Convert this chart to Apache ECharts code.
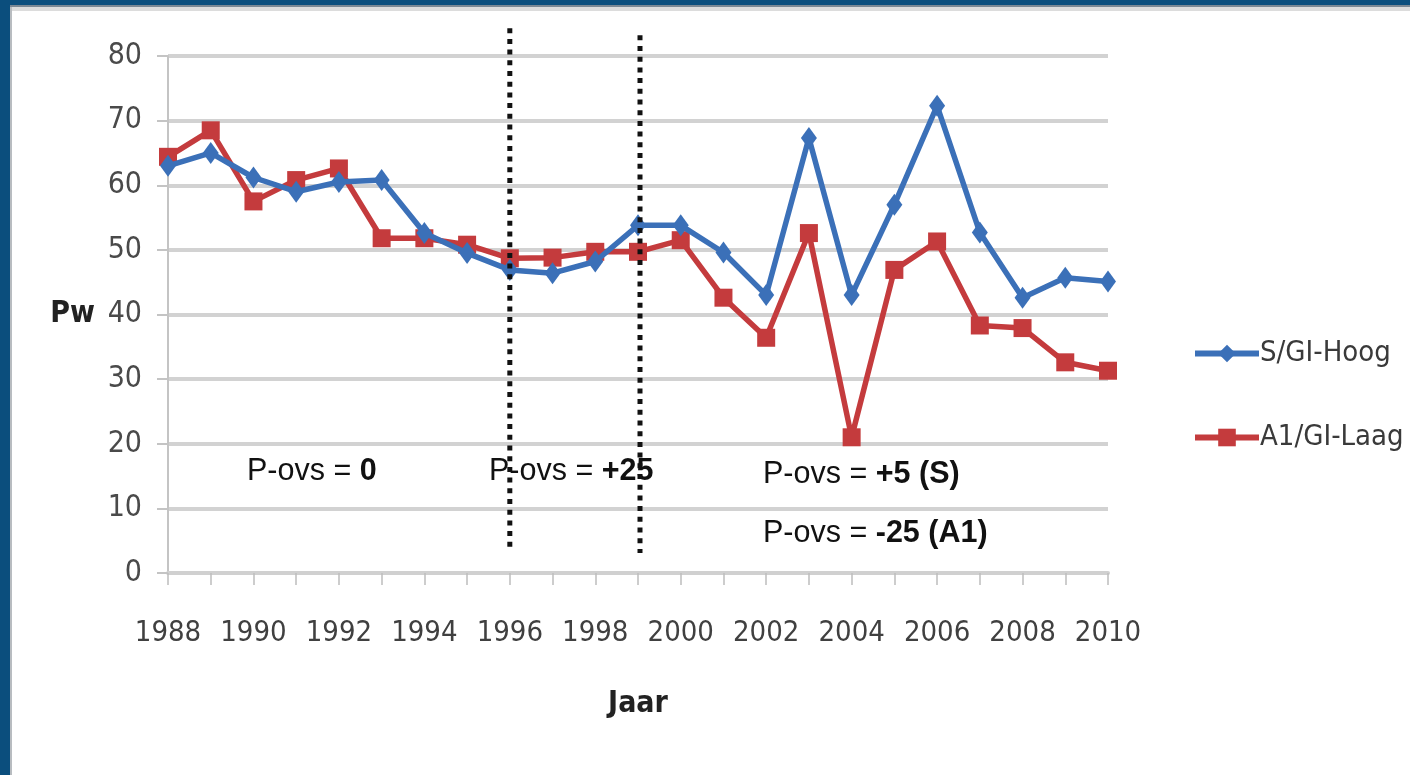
<!DOCTYPE html>
<html>
<head>
<meta charset="utf-8">
<script src="https://cdn.jsdelivr.net/npm/echarts@6/dist/echarts.min.js"></script>
<style>
html,body{margin:0;padding:0;background:#fff;}
#chart{position:absolute;left:0;top:0;width:1410px;height:775px;}
.b{position:absolute;}
</style>
</head>
<body>
<div id="chart"></div>
<div class="b" style="left:0;top:0;width:1410px;height:5px;background:#0b4e7d"></div>
<div class="b" style="left:0;top:5px;width:1410px;height:2px;background:#7b8894"></div>
<div class="b" style="left:0;top:7px;width:1410px;height:4px;background:#dcdcdc"></div>
<div class="b" style="left:0;top:0;width:10px;height:775px;background:#0b4e7d"></div>
<div class="b" style="left:10px;top:7px;width:2px;height:768px;background:#b8bcc0"></div>
<script>
var years = ['1988','1989','1990','1991','1992','1993','1994','1995','1996','1997','1998','1999','2000','2001','2002','2003','2004','2005','2006','2007','2008','2009','2010'];
var sHoog = [63, 65, 61.2, 59, 60.5, 60.8, 52.6, 49.5, 46.9, 46.4, 48.2, 53.8, 53.8, 49.6, 43, 67.3, 43, 57, 72.3, 52.7, 42.6, 45.7, 45.1];
var a1Laag = [64.4, 68.5, 57.5, 60.8, 62.6, 51.8, 51.8, 50.8, 48.7, 48.8, 49.7, 49.7, 51.5, 42.6, 36.4, 52.6, 21, 46.9, 51.3, 38.3, 37.9, 32.6, 31.3];
var yTicks = [0, 10, 20, 30, 40, 50, 60, 70, 80];
var seriesNames = ['S/GI-Hoog', 'A1/GI-Laag'];
// period boundaries: [year, top value, bottom value]
var periodLines = [['1996', 84.3, 3.9], ['1999', 83.2, 3.1]];
var notes = [
  {x: 247, y: 456, plain: 'P-ovs = ', bold: '0'},
  {x: 489, y: 456, plain: 'P-ovs = ', bold: '+25'},
  {x: 763, y: 459, plain: 'P-ovs = ', bold: '+5 (S)'},
  {x: 763, y: 518, plain: 'P-ovs = ', bold: '-25 (A1)'}
];

var narrow = '"Liberation Sans Narrow", "DejaVu Sans Condensed", "Liberation Sans", sans-serif';
var chart = echarts.init(document.getElementById('chart'));

chart.setOption({
  animation: false,
  backgroundColor: '#fff',
  grid: {left: 168, right: 302, top: 56, bottom: 202, containLabel: false},
  legend: {
    orient: 'vertical', left: 1187, top: 334, itemGap: 55,
    itemWidth: 64, itemHeight: 22,
    lineStyle: {width: 6},
    textStyle: {fontFamily: narrow, fontSize: 29, color: '#3a3a3a', padding: [0, 0, 0, -4]},
    data: seriesNames
  },
  xAxis: {
    type: 'category', data: years, boundaryGap: false,
    name: 'Jaar', nameLocation: 'middle', nameGap: 116,
    nameTextStyle: {fontFamily: narrow, fontSize: 30, fontWeight: 'bold', color: '#222'},
    axisLine: {show: true, lineStyle: {color: '#d0d0d0', width: 4}},
    axisTick: {show: true, interval: 0, length: 12, lineStyle: {color: '#bdbdbd', width: 1.5}},
    axisLabel: {interval: 1, margin: 46, fontFamily: narrow, fontSize: 29, color: '#404040'},
    splitLine: {show: false}
  },
  yAxis: {
    type: 'value', min: yTicks[0], max: yTicks[yTicks.length - 1], interval: 10,
    name: 'Pw', nameLocation: 'middle', nameRotate: 0, nameGap: 73,
    nameTextStyle: {fontFamily: narrow, fontSize: 30, fontWeight: 'bold', color: '#222'},
    axisLine: {show: true, lineStyle: {color: '#c4c4c4', width: 2}},
    axisTick: {show: true, length: 11, lineStyle: {color: '#c4c4c4', width: 2}},
    axisLabel: {margin: 26, fontFamily: narrow, fontSize: 30, color: '#4a4a4a'},
    splitLine: {show: true, lineStyle: {color: '#d2d2d2', width: 4}}
  },
  series: [
    {
      name: seriesNames[0], type: 'line', data: sHoog, clip: false, z: 3,
      symbol: 'diamond', symbolSize: [16, 22],
      lineStyle: {color: '#3b70b8', width: 5.5},
      itemStyle: {color: '#3b70b8'}
    },
    {
      name: seriesNames[1], type: 'line', data: a1Laag, clip: false, z: 2,
      symbol: 'rect', symbolSize: 18,
      lineStyle: {color: '#c43b3d', width: 5.5},
      itemStyle: {color: '#c43b3d'}
    }
  ]
});

var graphics = notes.map(function (n, i) {
  return {
    type: 'text', id: 'note' + i, left: n.x, top: n.y, z: 10,
    style: {
      text: '{p|' + n.plain + '}{b|' + n.bold + '}',
      rich: {
        p: {fontFamily: '"Liberation Sans", Arial, sans-serif', fontSize: 30.5, fill: '#111'},
        b: {fontFamily: '"Liberation Sans", Arial, sans-serif', fontSize: 30.5, fontWeight: 'bold', fill: '#111'}
      }
    }
  };
});
periodLines.forEach(function (p, i) {
  var a = chart.convertToPixel({gridIndex: 0}, [p[0], p[1]]);
  var b = chart.convertToPixel({gridIndex: 0}, [p[0], p[2]]);
  graphics.push({
    type: 'line', id: 'period' + i, z: 20, silent: true,
    shape: {x1: a[0] + (i === 1 ? 2 : 0), y1: a[1], x2: b[0] + (i === 1 ? 2 : 0), y2: b[1]},
    style: {stroke: '#111', lineWidth: 5, lineDash: [5, 5.7]}
  });
});
chart.setOption({graphic: graphics});
</script>
</body>
</html>
